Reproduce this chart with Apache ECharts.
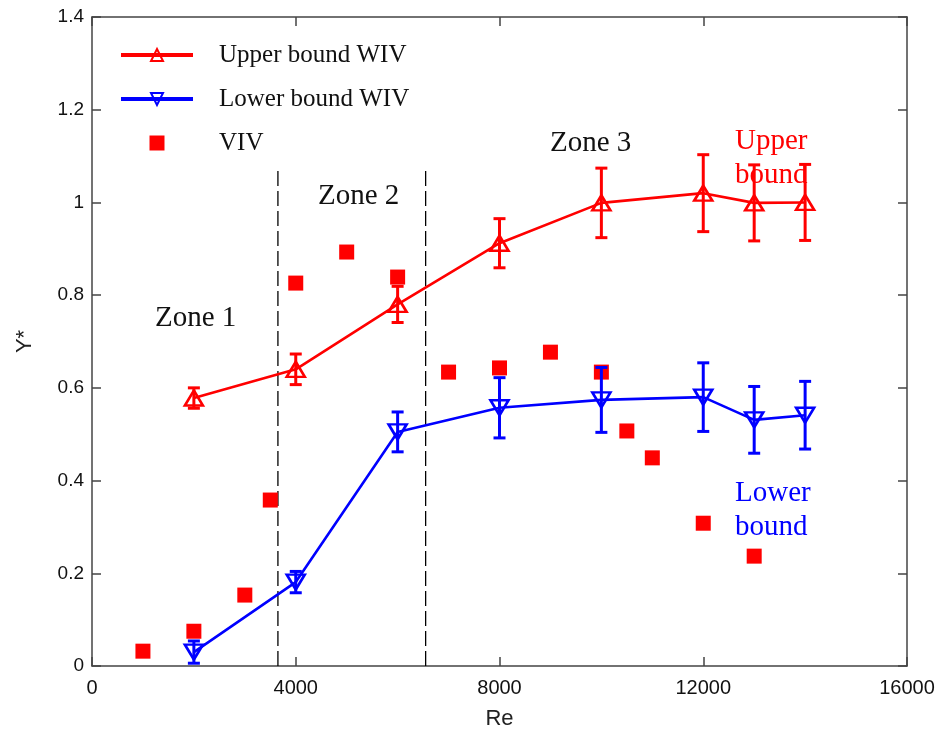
<!DOCTYPE html>
<html>
<head>
<meta charset="utf-8">
<script src="https://cdn.jsdelivr.net/npm/echarts@6/dist/echarts.min.js"></script>
<style>html,body{margin:0;padding:0;background:#fff;}#c{width:943px;height:736px;}</style>
</head>
<body>
<div id="c"></div>
<script>
// ---- data ----
var reX = [2000, 4000, 6000, 8000, 10000, 12000, 13000, 14000];
var upperY = [0.578, 0.640, 0.780, 0.912, 0.999, 1.020, 0.999, 1.000];
var upperErr = [0.022, 0.033, 0.039, 0.053, 0.075, 0.083, 0.082, 0.082];
var lowerY = [0.030, 0.181, 0.505, 0.557, 0.574, 0.580, 0.531, 0.541];
var lowerErr = [0.024, 0.023, 0.043, 0.065, 0.070, 0.074, 0.072, 0.073];
var vivX = [1000, 2000, 3000, 3500, 4000, 5000, 6000, 7000, 8000, 9000, 10000, 10500, 11000, 12000, 13000];
var vivY = [0.032, 0.075, 0.153, 0.358, 0.826, 0.893, 0.839, 0.634, 0.643, 0.677, 0.634, 0.507, 0.449, 0.308, 0.237];
var zoneBounds = [3650, 6550];
var zoneLineTop = 1.07;

var RED = '#ff0000', BLUE = '#0000ff';
var serif = '"Liberation Serif", "Times New Roman", serif';
var sans = '"Liberation Sans", Arial, sans-serif';
var SQUARE = 'path://M0,0L10,0L10,10L0,10Z';

function pairs(xs, ys) { return xs.map(function (x, i) { return [x, ys[i]]; }); }
function errData(xs, ys, es) { return xs.map(function (x, i) { return [x, ys[i] - es[i], ys[i] + es[i]]; }); }

function errRender(color) {
  return function (params, api) {
    var lo = api.coord([api.value(0), api.value(1)]);
    var hi = api.coord([api.value(0), api.value(2)]);
    var w = 6;
    var st = { stroke: color, lineWidth: 3 };
    return {
      type: 'group',
      children: [
        { type: 'line', shape: { x1: lo[0], y1: lo[1], x2: hi[0], y2: hi[1] }, style: st },
        { type: 'line', shape: { x1: lo[0] - w, y1: lo[1], x2: lo[0] + w, y2: lo[1] }, style: st },
        { type: 'line', shape: { x1: hi[0] - w, y1: hi[1], x2: hi[0] + w, y2: hi[1] }, style: st }
      ]
    };
  };
}

var zoneSeries = zoneBounds.map(function (zx) {
  return {
    type: 'line', name: 'zone', data: [[zx, 0], [zx, zoneLineTop]], symbol: 'none', silent: true,
    lineStyle: { color: '#000', width: 1.3, type: [15, 5] }, z: 1
  };
});

var chart = echarts.init(document.getElementById('c'), null, { renderer: 'canvas' });
var axisLineStyle = { color: '#444', width: 1.5 };
chart.setOption({
  animation: false,
  backgroundColor: '#fff',
  grid: { left: 92, right: 36, top: 17, bottom: 70 },
  legend: {
    data: [
      { name: 'Upper bound WIV', lineStyle: { width: 4 } },
      { name: 'Lower bound WIV', lineStyle: { width: 4 } },
      { name: 'VIV' }
    ],
    orient: 'vertical', left: 114, top: 35,
    itemWidth: 72, itemHeight: 15, itemGap: 14,
    textStyle: { fontFamily: serif, fontSize: 25, color: '#111', lineHeight: 30, padding: [0, 0, 0, 21] }
  },
  xAxis: [{
    type: 'value', min: 0, max: 16000, interval: 4000,
    name: 'Re', nameLocation: 'middle', nameGap: 42,
    nameTextStyle: { fontFamily: sans, fontSize: 22, color: '#222' },
    axisLine: { show: true, onZero: false, lineStyle: axisLineStyle },
    axisTick: { show: true, inside: true, length: 9, lineStyle: axisLineStyle },
    axisLabel: { fontFamily: sans, fontSize: 20, color: '#111', margin: 12, formatter: function (v) { return String(v); } },
    splitLine: { show: false }
  }, {
    type: 'value', min: 0, max: 16000, interval: 4000, position: 'top',
    axisLine: { show: true, onZero: false, lineStyle: axisLineStyle },
    axisTick: { show: true, inside: true, length: 9, lineStyle: axisLineStyle },
    axisLabel: { show: false }, splitLine: { show: false }
  }],
  yAxis: [{
    type: 'value', min: 0, max: 1.4, interval: 0.2,
    name: 'Y*', nameLocation: 'middle', nameGap: 56, nameRotate: 90,
    nameTextStyle: { fontFamily: sans, fontSize: 22, color: '#222' },
    axisLine: { show: true, onZero: false, lineStyle: axisLineStyle },
    axisTick: { show: true, inside: true, length: 9, lineStyle: axisLineStyle },
    axisLabel: {
      fontFamily: sans, fontSize: 19, color: '#111', margin: 8,
      formatter: function (v) { return String(parseFloat(v.toFixed(1))); }
    },
    splitLine: { show: false }
  }, {
    type: 'value', min: 0, max: 1.4, interval: 0.2, position: 'right',
    axisLine: { show: true, onZero: false, lineStyle: axisLineStyle },
    axisTick: { show: true, inside: true, length: 9, lineStyle: axisLineStyle },
    axisLabel: { show: false }, splitLine: { show: false }
  }],
  series: zoneSeries.concat([
    {
      type: 'scatter', name: 'VIV', data: pairs(vivX, vivY),
      symbol: SQUARE, symbolSize: 15, itemStyle: { color: RED, opacity: 1 }, z: 3
    },
    {
      type: 'line', name: 'Upper bound WIV', data: pairs(reX, upperY),
      symbol: 'triangle', symbolSize: [18, 15], showAllSymbol: true,
      lineStyle: { color: RED, width: 2.6 },
      itemStyle: { color: 'rgba(255,255,255,0)', borderColor: RED, borderWidth: 2.6 }, z: 4
    },
    {
      type: 'custom', name: 'uerr', data: errData(reX, upperY, upperErr),
      renderItem: errRender(RED), z: 5
    },
    {
      type: 'line', name: 'Lower bound WIV', data: pairs(reX, lowerY),
      symbol: 'triangle', symbolRotate: 180, symbolSize: [18, 15], showAllSymbol: true,
      lineStyle: { color: BLUE, width: 2.6 },
      itemStyle: { color: 'rgba(255,255,255,0)', borderColor: BLUE, borderWidth: 2.6 }, z: 4
    },
    {
      type: 'custom', name: 'lerr', data: errData(reX, lowerY, lowerErr),
      renderItem: errRender(BLUE), z: 5
    }
  ]),
  graphic: [
    { type: 'text', left: 155, top: 304, style: { text: 'Zone 1', font: '29px ' + serif, fill: '#111' } },
    { type: 'text', left: 318, top: 182, style: { text: 'Zone 2', font: '29px ' + serif, fill: '#111' } },
    { type: 'text', left: 550, top: 129, style: { text: 'Zone 3', font: '29px ' + serif, fill: '#111' } },
    { type: 'text', left: 735, top: 124, style: { text: 'Upper\nbound', font: '29px ' + serif, fill: RED, lineHeight: 34 } },
    { type: 'text', left: 735, top: 476, style: { text: 'Lower\nbound', font: '29px ' + serif, fill: BLUE, lineHeight: 34 } }
  ]
});
</script>
</body>
</html>
